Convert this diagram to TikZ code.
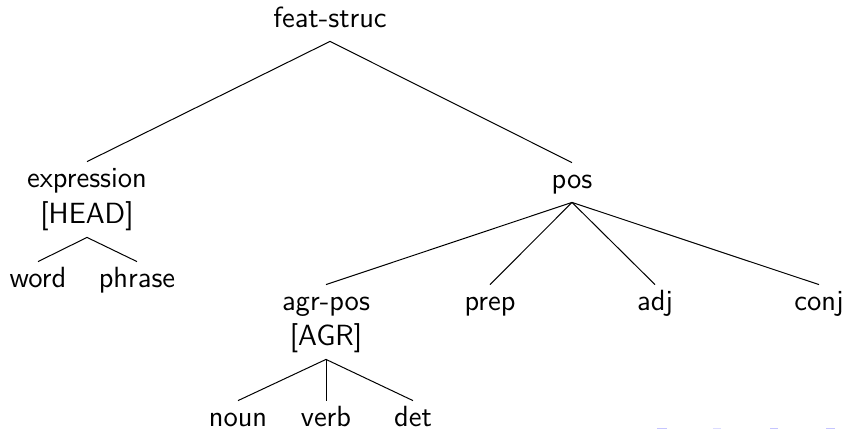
\documentclass[tikz,border=0pt]{standalone}
\begin{document}
\begin{tikzpicture}[x=0.5pt,y=-0.5pt,
  lbl/.style={font=\sffamily\fontsize{14.6}{18}\selectfont, anchor=base,
    text height=9.5pt, text depth=4pt, inner xsep=0pt, inner ysep=3pt},
  edge/.style={draw=black, line width=0.5pt},
  navmark/.style={fill=blue!45!white, draw=none, opacity=0.5}]
\useasboundingbox (0,0) rectangle (844,429);
% nodes
\node[lbl] (fs) at (330,27) {feat-struc};
\node[lbl] (expr) at (87,187) {expression};
\node[lbl] (head) at (87,223) {[HEAD]};
\node[lbl] (pos) at (572,188) {pos};
\node[lbl] (word) at (38,287) {word};
\node[lbl] (phrase) at (137,287) {phrase};
\node[lbl] (agrpos) at (326,310) {agr-pos};
\node[lbl] (agr) at (326,345) {[AGR]};
\node[lbl] (prep) at (490,310) {prep};
\node[lbl] (adj) at (655,310) {adj};
\node[lbl] (conj) at (819,310) {conj};
\node[lbl] (noun) at (238,426) {noun};
\node[lbl] (verb) at (326,426) {verb};
\node[lbl] (det) at (413,426) {det};
% edges
\draw[edge] (fs.south) -- (expr.north);
\draw[edge] (fs.south) -- (pos.north);
\draw[edge] (head.south) -- (word.north);
\draw[edge] (head.south) -- (phrase.north);
\draw[edge] (pos.south) -- (agrpos.north);
\draw[edge] (pos.south) -- (prep.north);
\draw[edge] (pos.south) -- (adj.north);
\draw[edge] (pos.south) -- (conj.north);
\draw[edge] (agr.south) -- (noun.north);
\draw[edge] (agr.south) -- (verb.north);
\draw[edge] (agr.south) -- (det.north);
% faint navigation marks
\fill[navmark] (657,427.5) rectangle (667,429);
\fill[navmark, opacity=0.3] (713,427.5) rectangle (721,429);
\fill[navmark] (770,427.5) rectangle (778,429);
\fill[navmark] (826,427.5) rectangle (835,429);
\end{tikzpicture}
\end{document}
